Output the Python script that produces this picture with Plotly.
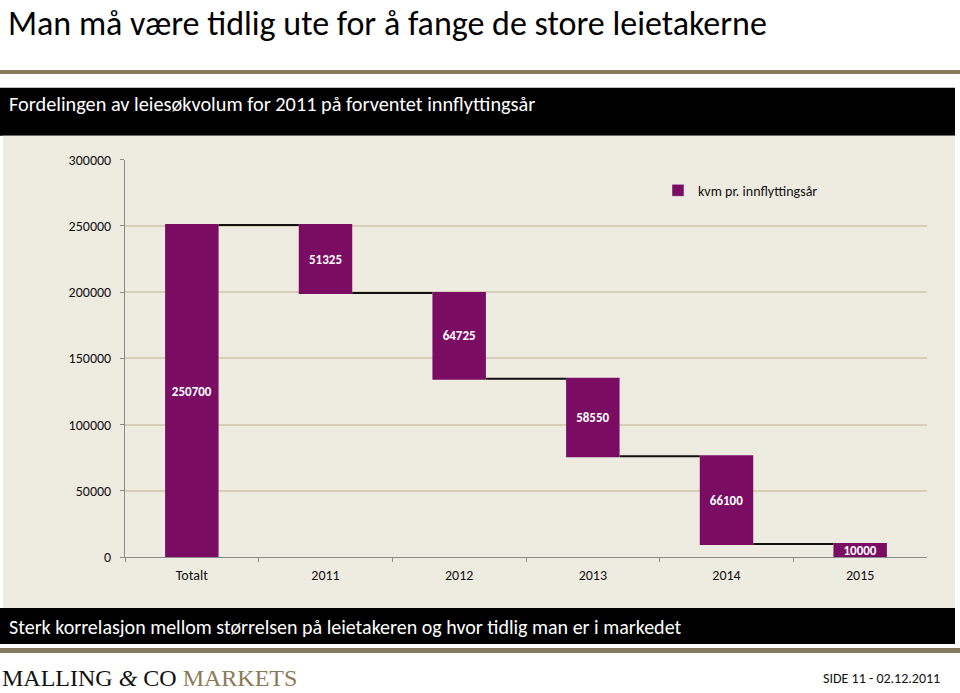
import plotly.graph_objects as go

categories = ["Totalt", "2011", "2012", "2013", "2014", "2015"]
measures = ["absolute", "relative", "relative", "relative", "relative", "relative"]
values = [250700, -51325, -64725, -58550, -66100, -10000]
labels = ["250700", "51325", "64725", "58550", "66100", "10000"]
y_ticks = [0, 50000, 100000, 150000, 200000, 250000, 300000]
series_name = "kvm pr. innflyttingsår"

title = "Man må være tidlig ute for å fange de store leietakerne"
header = "Fordelingen av leiesøkvolum for 2011 på forventet innflyttingsår"
footer = "Sterk korrelasjon mellom størrelsen på leietakeren og hvor tidlig man er i markedet"
page = "SIDE 11 - 02.12.2011"

W, H = 960, 693
PURPLE = "#7B0C63"
BEIGE = "#EEEBE1"
GOLD = "#857A5C"
FONT = "Carlito, Lato, sans-serif"

# photographed page maps figure rows to ~7 + 0.977*y; compensate so the
# picture lines up with the reference slide
Y_OFF, Y_SCALE = 7.0, 0.977


def py(px):
    return 1 - ((px - Y_OFF) / Y_SCALE) / H


def pxx(px):
    return px / W


fig = go.Figure()
fig.add_trace(go.Waterfall(
    x=categories, y=values, measure=measures,
    text=labels, textposition="inside", insidetextanchor="middle",
    constraintext="none",
    textfont=dict(color="white", size=13, family=FONT, weight="bold"),
    increasing=dict(marker=dict(color=PURPLE)),
    decreasing=dict(marker=dict(color=PURPLE)),
    totals=dict(marker=dict(color=PURPLE)),
    connector=dict(mode="between", line=dict(color="#111111", width=2)),
    showlegend=False, hoverinfo="skip",
))
fig.add_trace(go.Bar(x=[None], y=[None], name=series_name,
                     marker=dict(color=PURPLE), showlegend=True))

shapes = []
shapes.append(dict(type="rect", xref="paper", yref="paper", x0=0, x1=1,
                   y0=py(73), y1=py(69), fillcolor=GOLD, line=dict(width=0), layer="below"))
shapes.append(dict(type="rect", xref="paper", yref="paper", x0=0, x1=1,
                   y0=py(653), y1=py(648), fillcolor=GOLD, line=dict(width=0), layer="below"))
shapes.append(dict(type="rect", xref="paper", yref="paper", x0=0, x1=pxx(955),
                   y0=py(135), y1=py(87), fillcolor="black", line=dict(width=0), layer="below"))
shapes.append(dict(type="rect", xref="paper", yref="paper", x0=pxx(3), x1=pxx(955),
                   y0=py(608), y1=py(135), fillcolor=BEIGE, line=dict(width=0), layer="below"))
shapes.append(dict(type="rect", xref="paper", yref="paper", x0=0, x1=pxx(955),
                   y0=py(644), y1=py(608), fillcolor="black", line=dict(width=0), layer="below"))

annotations = [
    dict(text=title, x=pxx(6), y=py(22.8), xref="paper", yref="paper", xanchor="left",
         yanchor="middle", showarrow=False, font=dict(size=34, color="black", family=FONT)),
    dict(text=header, x=pxx(7), y=py(103), xref="paper", yref="paper", xanchor="left",
         yanchor="middle", showarrow=False, font=dict(size=20.3, color="white", family=FONT)),
    dict(text=footer, x=pxx(7), y=py(627), xref="paper", yref="paper", xanchor="left",
         yanchor="middle", showarrow=False, font=dict(size=20, color="white", family=FONT)),
    dict(text="MALLING <i>&amp;</i> CO <span style='color:#8A7A56'>MARKETS</span>",
         x=pxx(0), y=py(678), xref="paper", yref="paper", xanchor="left",
         yanchor="middle", showarrow=False,
         font=dict(size=24, color="#111111", family="Liberation Serif, DejaVu Serif, serif")),
    dict(text=page, x=pxx(942), y=py(679), xref="paper", yref="paper", xanchor="right",
         yanchor="middle", showarrow=False, font=dict(size=14, color="#111111", family=FONT)),
]

fig.update_layout(
    width=W, height=H,
    margin=dict(l=0, r=0, t=0, b=0),
    paper_bgcolor="white", plot_bgcolor=BEIGE,
    waterfallgap=0.6,
    shapes=shapes, annotations=annotations,
    font=dict(family=FONT, color="#222222"),
    legend=dict(x=pxx(658), y=py(190), xanchor="left", yanchor="middle",
                bgcolor="rgba(0,0,0,0)", font=dict(size=14, color="#111111"),
                itemwidth=30),
    xaxis=dict(domain=[pxx(125), pxx(927)], type="category",
               showgrid=False, showline=True, linecolor="#8C8C8C", linewidth=1,
               ticks="outside", tickson="boundaries", ticklen=4, tickcolor="#8C8C8C",
               ticklabelstandoff=5,
               tickfont=dict(size=14, color="#111111")),
    yaxis=dict(domain=[py(557), py(159)], range=[0, 300000], tickvals=y_ticks,
               tickformat="d", ticklabelstandoff=6,
               showgrid=True, gridcolor="#D6CEB6", gridwidth=1.5,
               showline=True, linecolor="#8C8C8C", linewidth=1,
               ticks="outside", ticklen=4, tickcolor="#8C8C8C", zeroline=False,
               tickfont=dict(size=14, color="#111111")),
)

fig.write_html(
    "out.html",
    config={"displayModeBar": False},
    post_script=("document.documentElement.style.overflow='hidden';"
                 "document.body.style.margin='0';"
                 "document.body.style.overflow='hidden';"),
)
